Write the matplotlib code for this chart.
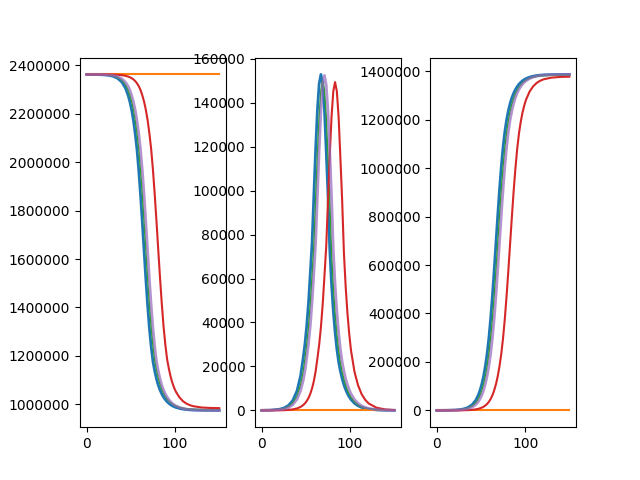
import matplotlib
matplotlib.use("Agg")
import matplotlib.pyplot as plt

# sample days (denser around the epidemic peak)
days = [0, 10, 20, 25, 30, 35, 40, 44, 47, 49, 51, 53, 55, 57, 59, 61, 63, 65, 67,
        69, 71, 73, 75, 77, 79, 81, 83, 85, 87, 89, 91, 93, 95, 97, 99, 101,
        105, 109, 113, 117, 121, 130, 140, 150]

# susceptible
s_blue = [2361898, 2361560, 2360116, 2358145, 2354146, 2346059, 2329640, 2304903, 2274587,
          2247819, 2213759, 2170417, 2115456, 2049977, 1963782, 1862302, 1749444, 1631468,
          1515112, 1407319, 1313194, 1237584, 1177326, 1138137, 1105391, 1079431, 1058998,
          1043001, 1030169, 1019561, 1010952, 1004017, 998421, 993933, 990286, 987371,
          983074, 980292, 978453, 977287, 976513, 975606, 975186, 975067]
s_orange = [2362000] * len(days)
s_green = [2361922, 2361689, 2360589, 2359122, 2356142, 2350068, 2337820, 2319325, 2296627,
           2275182, 2248580, 2214733, 2171662, 2117043, 2051937, 1966288, 1865380, 1753067,
           1635546, 1519514, 1411882, 1317761, 1241996, 1181535, 1142019, 1109076, 1082967,
           1062417, 1046326, 1033425, 1022767, 1014119, 1007152, 1001531, 997021, 993357,
           988028, 984573, 982282, 980825, 979896, 978728, 978234, 978070]
s_red = [2361991, 2361954, 2361836, 2361635, 2361183, 2360366, 2358733, 2356166, 2353072,
         2350119, 2346235, 2341104, 2334196, 2325110, 2313057, 2296904, 2275551, 2249061,
         2215359, 2172471, 2118085, 2053257, 1967972, 1867494, 1755663, 1638648, 1523118,
         1415954, 1322245, 1246815, 1186623, 1147287, 1114492, 1088500, 1068043, 1052024,
         1028570, 1013025, 1002940, 996377, 992080, 987077, 985102, 984411]
s_purple = [2361945, 2361780, 2360943, 2359815, 2357542, 2352980, 2343641, 2329670, 2312555,
            2296238, 2274666, 2247919, 2213886, 2170579, 2115661, 2050227, 1964102, 1862690,
            1749891, 1631954, 1515612, 1407805, 1313641, 1237969, 1177646, 1138377, 1105579,
            1079579, 1059115, 1043093, 1030242, 1019619, 1010999, 1004055, 998452, 993958,
            987387, 983084, 980299, 978457, 977290, 975890, 975324, 975119]

# infected
i_blue = [28, 122, 520, 1070, 2171, 4404, 8945, 15779, 24158, 30580, 38837, 49387, 62689,
          76450, 97856, 118803, 136693, 148619, 152900, 148619, 136693, 117733, 97856, 73392,
          57490, 45258, 35626, 27981, 22171, 17889, 14449, 11666, 9419, 7599, 6131, 4954,
          3226, 2095, 1376, 887, 581, 229, 81, 29]
i_orange = [0] * len(days)
i_green = [21, 90, 390, 780, 1605, 3255, 6600, 11655, 17850, 23700, 30000, 38100, 48450,
           61500, 75000, 96000, 116550, 134100, 145800, 150000, 145800, 134100, 115500, 96000,
           72000, 56400, 44400, 34950, 27450, 21750, 17550, 14175, 11445, 9240, 7455, 6015,
           3915, 2550, 1665, 1080, 705, 285, 98, 35]
i_red = [3, 12, 45, 105, 224, 448, 896, 1599, 2435, 3242, 4303, 5707, 7590, 10070, 13371,
         17779, 23605, 29880, 37948, 48256, 61254, 74700, 95616, 116084, 133564, 145217,
         149400, 145217, 133564, 115038, 95616, 71712, 56174, 44222, 34810, 27340,
         17480, 11399, 7425, 4841, 3152, 1210, 418, 149]
i_purple = [15, 61, 290, 594, 1219, 2484, 5060, 8915, 13640, 18136, 24079, 30480, 38710,
            49225, 62484, 76200, 97536, 118415, 136246, 148133, 152400, 148133, 136246,
            117348, 97536, 73152, 57302, 45110, 35509, 27889, 22098, 17831, 14402, 11628,
            9388, 7574, 4938, 3216, 2088, 1372, 884, 351, 122, 43]

# recovered
r_blue = [74, 318, 1364, 2785, 5683, 11537, 23415, 41318, 63255, 83601, 109404, 142196,
          183855, 235573, 300362, 380895, 475863, 581913, 693988, 806062, 912113, 1006683,
          1086818, 1150471, 1199119, 1237311, 1267376, 1291018, 1309660, 1324550, 1336599,
          1346317, 1354160, 1360468, 1365583, 1369675, 1375700, 1379613, 1382171, 1383826,
          1384906, 1386165, 1386733, 1386904]
r_orange = [0] * len(days)
r_green = [57, 221, 1021, 2098, 4253, 8677, 17580, 31020, 47523, 63118, 83420, 109167,
           141888, 183457, 235063, 299712, 380070, 474833, 580654, 692486, 804318, 910139,
           1004504, 1084465, 1147981, 1196524, 1234633, 1264633, 1288224, 1306825, 1321683,
           1333706, 1343403, 1351229, 1357524, 1362628, 1370057, 1374877, 1378053, 1380095,
           1381399, 1382987, 1383668, 1383895]
r_red = [6, 34, 119, 260, 593, 1186, 2371, 4235, 6493, 8639, 11462, 15189, 20214, 26820,
         35572, 47317, 62844, 83059, 108693, 141273, 182661, 234043, 298412, 378422, 472773,
         578135, 689482, 800829, 906191, 1000147, 1079761, 1143001, 1191334, 1229278,
         1259147, 1282636, 1315950, 1337576, 1351635, 1360782, 1366768, 1373713, 1376480,
         1377440]
r_purple = [40, 159, 767, 1591, 3239, 6536, 13299, 23415, 35805, 47626, 63255, 83601,
            109404, 142196, 183855, 235573, 300362, 380895, 475863, 581913, 693988, 806062,
            912113, 1006683, 1086818, 1150471, 1199119, 1237311, 1267376, 1291018, 1309660,
            1324550, 1336599, 1346317, 1354160, 1360468, 1369675, 1375700, 1379613, 1382171,
            1383826, 1385759, 1386554, 1386838]

# line styles per series (default colour cycle order)
styles = [("tab:blue", 2.0, 1.0), ("tab:orange", 1.5, 1.0), ("tab:green", 1.0, 1.0),
          ("tab:red", 1.5, 1.0), ("tab:purple", 2.0, 0.7)]

fig, axes = plt.subplots(1, 3, figsize=(6.4, 4.8), dpi=100)

panels = [
    [s_blue, s_orange, s_green, s_red, s_purple],
    [i_blue, i_orange, i_green, i_red, i_purple],
    [r_blue, r_orange, r_green, r_red, r_purple],
]

for ax, series in zip(axes, panels):
    for vals, (col, lw, a) in zip(series, styles):
        ax.plot(days, vals, color=col, linewidth=lw, alpha=a)
    ax.ticklabel_format(axis="y", style="plain", useOffset=False)
    ax.set_xticks([0, 100])

fig.savefig("out.png")
